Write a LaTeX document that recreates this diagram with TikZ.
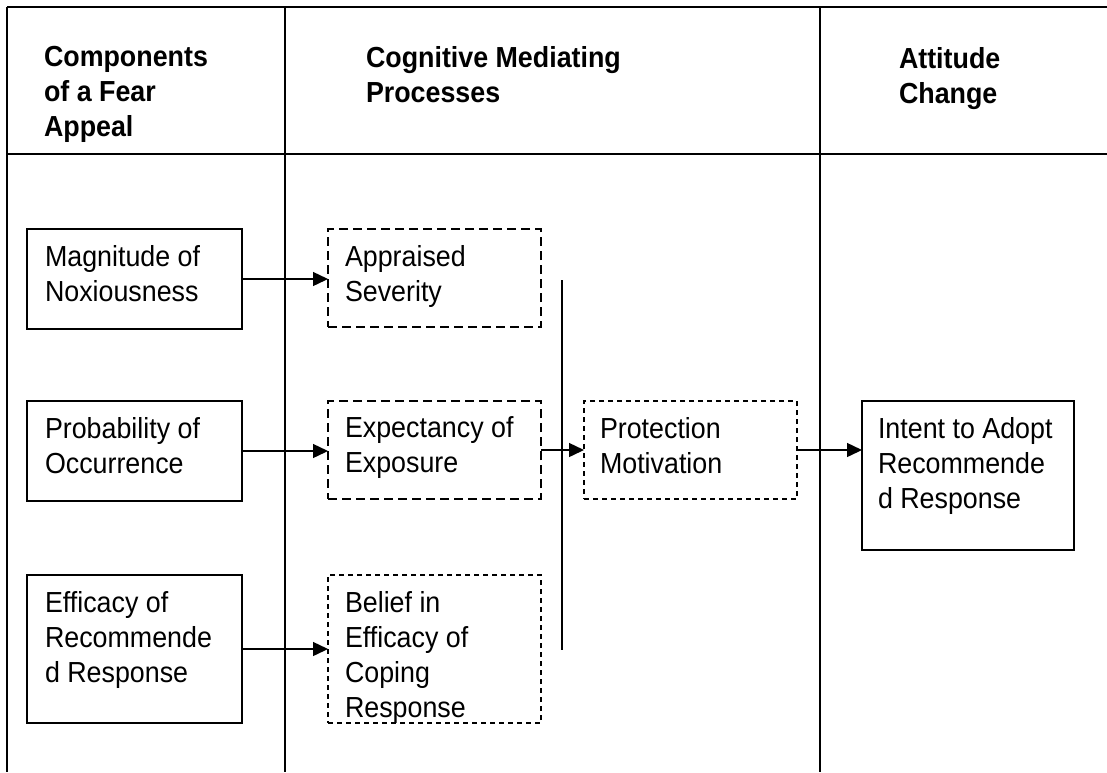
\documentclass[tikz,border=0pt]{standalone}
\usepackage{fontspec}
\setmainfont[FakeStretch=0.925]{Liberation Sans}
\usetikzlibrary{arrows.meta}
\begin{document}
\begin{tikzpicture}[x=1pt,y=-1pt,
  every node/.style={inner sep=0pt, outer sep=0pt},
  gridline/.style={line width=1.3pt},
  solidbox/.style={draw, line width=1.3pt, rectangle, anchor=north west},
  longdashbox/.style={draw, line width=1.3pt, rectangle, anchor=north west, dash pattern=on 9pt off 5pt},
  shortdashbox/.style={draw, line width=1.3pt, rectangle, anchor=north west, dash pattern=on 5pt off 4pt},
  txt/.style={anchor=north west, align=left, font=\fontsize{29}{35}\selectfont},
  head/.style={anchor=north west, align=left, font=\fontsize{29}{35}\selectfont\bfseries},
  arr/.style={line width=1.4pt, -{Triangle[length=15pt,width=14pt]}}
]
\useasboundingbox (0,0) rectangle (1107,772);
% grid
\coordinate (tl) at (7,7);
\coordinate (tr) at (1107,7);
\coordinate (bl) at (7,772);
\coordinate (ml) at (7,154);
\coordinate (mr) at (1107,154);
\coordinate (c1t) at (285,7);
\coordinate (c1b) at (285,772);
\coordinate (c2t) at (820,7);
\coordinate (c2b) at (820,772);
\draw[gridline] (tl) -- (tr);
\draw[gridline] (tl) -- (bl);
\draw[gridline] (ml) -- (mr);
\draw[gridline] (c1t) -- (c1b);
\draw[gridline] (c2t) -- (c2b);
% headers
\node[head] (h1) at (44,46) {Components\\of a Fear\\Appeal};
\node[head] (h2) at (366,46) {Cognitive Mediating\\Processes};
\node[head] (h3) at (899,47) {Attitude\\Change};
% boxes
\node[solidbox, minimum width=215pt, minimum height=100pt] (mag) at (27,229) {};
\node[solidbox, minimum width=215pt, minimum height=100pt] (prob) at (27,401) {};
\node[solidbox, minimum width=215pt, minimum height=148pt] (eff) at (27,575) {};
\node[longdashbox, minimum width=213pt, minimum height=98pt] (appr) at (328,229) {};
\node[longdashbox, minimum width=213pt, minimum height=98pt] (expe) at (328,401) {};
\node[shortdashbox, minimum width=213pt, minimum height=148pt] (beli) at (328,575) {};
\node[shortdashbox, minimum width=213pt, minimum height=98pt] (prot) at (584,401) {};
\node[solidbox, minimum width=212pt, minimum height=149pt] (inte) at (862,401) {};
% texts
\node[txt] (tmag) at ([xshift=18pt,yshift=-16pt]mag.north west) {Magnitude of\\Noxiousness};
\node[txt] (tprob) at ([xshift=18pt,yshift=-16pt]prob.north west) {Probability of\\Occurrence};
\node[txt] (teff) at ([xshift=18pt,yshift=-16pt]eff.north west) {Efficacy of\\Recommende\\d Response};
\node[txt] (tappr) at ([xshift=17pt,yshift=-16pt]appr.north west) {Appraised\\Severity};
\node[txt] (texpe) at ([xshift=17pt,yshift=-16pt]expe.north west) {Expectancy of\\Exposure};
\node[txt] (tbeli) at ([xshift=17pt,yshift=-16pt]beli.north west) {Belief in\\Efficacy of\\Coping\\Response};
\node[txt] (tprot) at ([xshift=16pt,yshift=-16pt]prot.north west) {Protection\\Motivation};
\node[txt] (tinte) at ([xshift=16pt,yshift=-16pt]inte.north west) {Intent to Adopt\\Recommende\\d Response};
% vertical collector line
\coordinate (vt) at (562,280);
\coordinate (vb) at (562,650);
\draw[gridline] (vt) -- (vb);
% arrows
\draw[arr] (mag.east) -- (mag.east -| appr.west);
\draw[arr] (prob.east) -- (prob.east -| expe.west);
\draw[arr] (eff.east) -- (eff.east -| beli.west);
\draw[arr] (expe.east) -- (prot.west);
\draw[arr] (prot.east) -- (prot.east -| inte.west);
\end{tikzpicture}
\end{document}
